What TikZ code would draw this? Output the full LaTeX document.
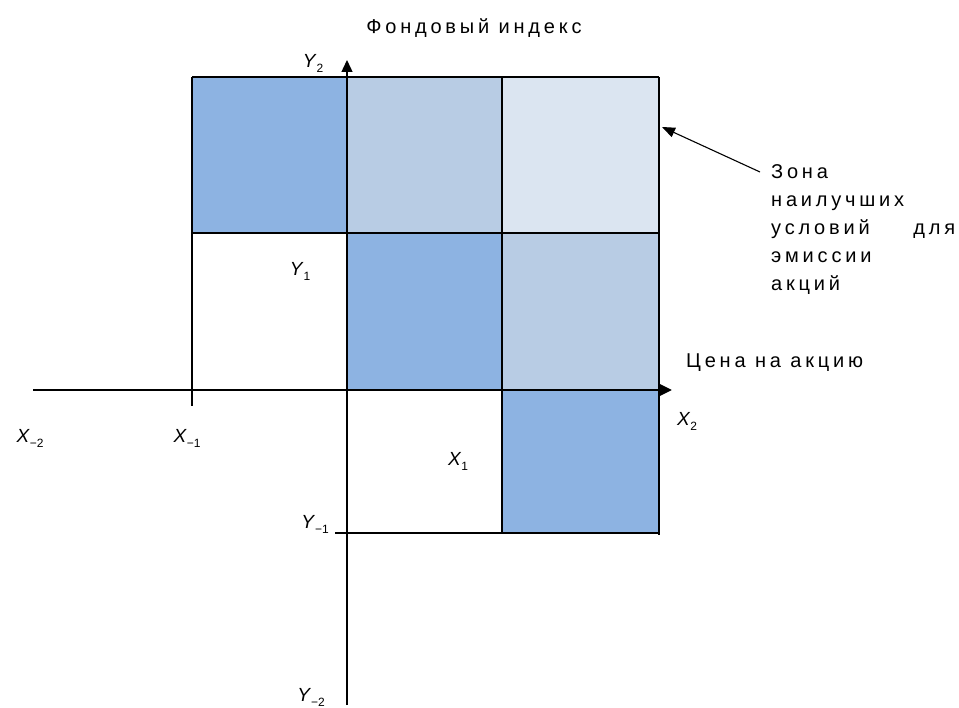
\documentclass[tikz,border=0pt]{standalone}
\usepackage{fontspec}
\setmainfont{Liberation Sans}
\newfontfamily\spaced[LetterSpace=19]{Liberation Sans}
\usetikzlibrary{arrows.meta}
\definecolor{bmed}{HTML}{8DB3E2}
\definecolor{blight}{HTML}{B8CCE4}
\definecolor{bpale}{HTML}{DBE5F1}
\newcommand\idxlab[2]{\textit{#1}\raisebox{-0.5ex}{\fontsize{12}{12}\selectfont #2}}
\begin{document}
\begin{tikzpicture}[x=1pt,y=-1pt,
  cellline/.style={draw=black, line width=1.2pt},
  axis/.style={draw=black, line width=1.4pt},
  tip/.style={-{Triangle[length=12pt,width=11pt]}},
  lbl/.style={font=\fontsize{19}{19}\selectfont, inner sep=0pt},
  txt/.style={font=\spaced\fontsize{20}{28}\selectfont, inner sep=0pt},
]
\useasboundingbox (0,0) rectangle (959,708);
% fills
\fill[bmed]   (192,77) rectangle (347,233);
\fill[blight] (347,77) rectangle (502,233);
\fill[bpale]  (502,77) rectangle (659,233);
\fill[bmed]   (347,233) rectangle (502,390);
\fill[blight] (502,233) rectangle (659,390);
\fill[bmed]   (502,390) rectangle (659,533);
% grid lines
\draw[cellline] (192,77) -- (659,77);
\draw[cellline] (192,233) -- (659,233);
\draw[cellline] (192,77) -- (192,406);
\draw[cellline] (502,77) -- (502,533);
\draw[cellline] (659,77) -- (659,390);
\draw[cellline] (335,533) -- (659,533);
\draw[line width=2.8pt] (659,390) -- (659,534.5);
% axes
\coordinate (xs) at (33,390);
\coordinate (xe) at (672,390);
\coordinate (ys) at (347,705);
\coordinate (ye) at (347,60);
\draw[axis] (xs) -- (502,390);
\draw[line width=2.8pt, tip] (502,390) -- (xe);
\draw[axis, tip] (ys) -- (ye);
% labels
\node[lbl] (y2) at (313,63) {\idxlab{Y}{2}};
\node[lbl] (y1) at (300,271) {\idxlab{Y}{1}};
\node[lbl] (xm2) at (30,438) {\idxlab{X}{−2}};
\node[lbl] (xm1) at (187,438) {\idxlab{X}{−1}};
\node[lbl] (x1) at (458,461) {\idxlab{X}{1}};
\node[lbl] (x2) at (687,421) {\idxlab{X}{2}};
\node[lbl] (ym1) at (315,524) {\idxlab{Y}{−1}};
\node[lbl] (ym2) at (311,697) {\idxlab{Y}{−2}};
\node[txt] (title) at (474,28) {Фондовый индекс};
\node[txt, anchor=west] (price) at (686,363) {Цена на акцию};
\node[txt, anchor=north west, align=left] (zone) at (771,164)
  {Зона\\наилучших\\\makebox[184pt][l]{условий\hfill для}\\эмиссии\\акций};
\coordinate (corner) at (662,127);
\draw[line width=1.1pt, -{Triangle[length=13pt,width=10pt]}] (zone.north west) ++(-11,8) -- (corner);
\end{tikzpicture}
\end{document}
